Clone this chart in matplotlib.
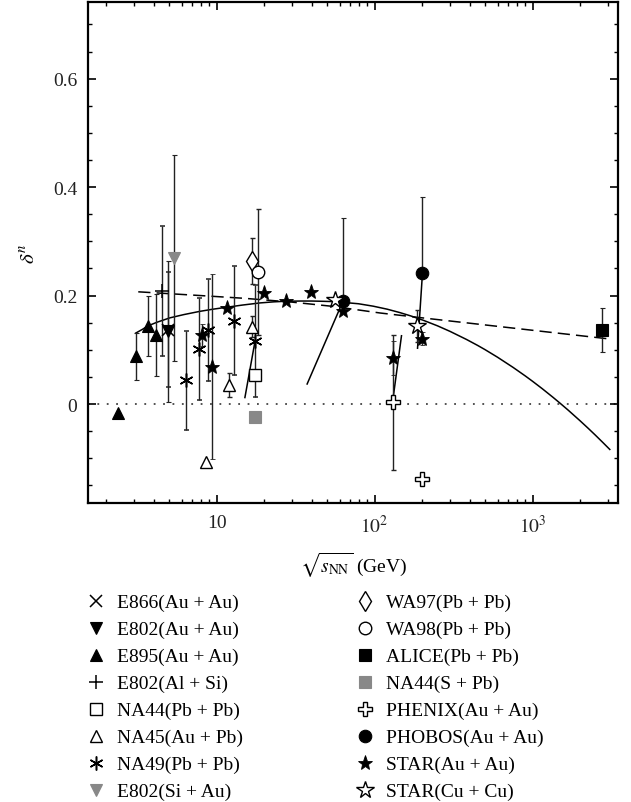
import numpy as np
import matplotlib
matplotlib.use('Agg')
import matplotlib.pyplot as plt
from matplotlib.lines import Line2D
from matplotlib.ticker import LogLocator, MultipleLocator, FuncFormatter, NullFormatter, FixedLocator

plt.rcParams['font.family'] = ['Liberation Serif', 'DejaVu Serif']
plt.rcParams['mathtext.fontset'] = 'stix'

# ---------------- data ----------------
e866_x = [4.94]; e866_y = [0.137]; e866_err = [0.106]
e802au_x = [4.94]; e802au_y = [0.134]; e802au_err = [0.13]
e895_x = [2.38, 3.08, 3.66, 4.13]; e895_y = [-0.016, 0.088, 0.144, 0.127]; e895_err = [0.0, 0.043, 0.056, 0.076]
e802alsi_x = [4.49]; e802alsi_y = [0.208]; e802alsi_err = [0.12]
na44pb_x = [17.4]; na44pb_y = [0.054]
na45_x = [8.52, 12.0, 16.7]; na45_y = [-0.107, 0.035, 0.143]; na45_err = [0.0, 0.022, 0.02]
na49_x = [6.39, 7.69, 8.85, 12.9, 17.5]; na49_y = [0.044, 0.101, 0.136, 0.154, 0.116]; na49_err = [0.091, 0.094, 0.094, 0.10, 0.103]
e802siau_x = [5.37]; e802siau_y = [0.270]; e802siau_err = [0.19]
wa97_x = [16.65]; wa97_y = [0.264]; wa97_err = [0.042]
wa98_x = [18.2]; wa98_y = [0.244]; wa98_err = [0.116]
alice_x = [2757]; alice_y = [0.137]; alice_err = [0.041]
na44s_x = [17.4]; na44s_y = [-0.023]
phenix_x = [130, 200]; phenix_y = [0.003, -0.138]; phenix_err = [0.124, 0.0]
phobos_x = [62.7, 201]; phobos_y = [0.190, 0.242]; phobos_err_lo = [0.01, 0.0]; phobos_err_hi = [0.153, 0.14]
starau_x = [8.04, 9.3, 11.57, 19.9, 27.5, 39.5, 62.7, 131, 200]
starau_y = [0.127, 0.069, 0.177, 0.204, 0.190, 0.207, 0.172, 0.085, 0.120]
starau_err = [0.02, 0.17, 0.0, 0.0, 0.0, 0.0, 0.0, 0.031, 0.012]
starcu_x = [56.1, 184.5]; starcu_y = [0.191, 0.144]; starcu_err = [0.0, 0.03]

# solid curve and dashed curve
fit_x = [3.08, 3.4, 3.66, 4.2, 5.06, 6.2, 7.84, 9.5, 11.57, 14.5, 18.8, 23, 27.5, 34, 40, 47, 54.7, 63, 79,
         98, 120, 144.5, 170, 203, 250, 300, 382, 450, 500, 600, 753, 900, 1000, 1150, 1349, 1500, 1679,
         2000, 2250, 2500, 2800, 3083]
fit_y = [0.131, 0.138, 0.144, 0.151, 0.159, 0.165, 0.171, 0.175, 0.1785, 0.1825, 0.1865, 0.1885, 0.1896,
         0.190, 0.190, 0.1895, 0.189, 0.1875, 0.185, 0.1805, 0.175, 0.1687, 0.1624, 0.1546, 0.1443, 0.1341,
         0.1191, 0.108, 0.1004, 0.0864, 0.0676, 0.0518, 0.042, 0.0285, 0.0123, 0.0011, -0.0111, -0.0309,
         -0.0447, -0.0574, -0.0715, -0.0837]
dash_x = [3.19, 8.0, 15.0, 30.0, 55.0, 108.0, 200.0, 3083.0]
dash_y = [0.207, 0.200, 0.195, 0.188, 0.180, 0.168, 0.159, 0.120]

# short slanted segments
seg_x = [[15.1, 17.5], [37.4, 62.7], [130, 148], [187, 201]]
seg_y = [[0.012, 0.116], [0.037, 0.188], [0.004, 0.126], [0.103, 0.242]]

labels = ['E866(Au + Au)', 'E802(Au + Au)', 'E895(Au + Au)', 'E802(Al + Si)',
          'NA44(Pb + Pb)', 'NA45(Au + Pb)', 'NA49(Pb + Pb)', 'E802(Si + Au)',
          'WA97(Pb + Pb)', 'WA98(Pb + Pb)', 'ALICE(Pb + Pb)', 'NA44(S + Pb)',
          'PHENIX(Au + Au)', 'PHOBOS(Au + Au)', 'STAR(Au + Au)', 'STAR(Cu + Cu)']

# ---------------- figure ----------------
W, H = 631, 803
fig = plt.figure(figsize=(W / 100, H / 100), dpi=100)
ax = fig.add_axes([88.3 / W, 1 - 504.3 / H, (618.3 - 88.3) / W, (504.3 - 2.7) / H])
ax.set_xscale('log')
ax.set_xlim(1.54, 3490)
ax.set_ylim(-0.183, 0.742)

ecol = '#222222'
grey = '#888888'
ekw = dict(ecolor=ecol, elinewidth=1.0, capsize=1.8, capthick=1.0, linestyle='none', zorder=3)

# lines
ax.axhline(0, color='#444444', lw=1.3, dashes=(1, 4.2), zorder=1)
ax.plot(fit_x, fit_y, color='black', lw=1.1, zorder=2)
ax.plot(dash_x, dash_y, color='black', lw=1.1, dashes=(8, 4), zorder=2)
for sx, sy in zip(seg_x, seg_y):
    ax.plot(sx, sy, color='black', lw=1.1, zorder=2)

def eb(x, y, err, **mk):
    ax.errorbar(x, y, yerr=err, **ekw, **mk)

styles = {}
styles[0] = dict(marker='x', ms=8, mfc='black', mec='black', mew=1.1)
styles[1] = dict(marker='v', ms=8, mfc='black', mec='black', mew=0.8)
styles[2] = dict(marker='^', ms=8, mfc='black', mec='black', mew=0.8)
styles[3] = dict(marker='+', ms=10, mfc='black', mec='black', mew=1.1)
styles[4] = dict(marker='s', ms=8, mfc='white', mec='black', mew=1.0)
styles[5] = dict(marker='^', ms=9, mfc='white', mec='black', mew=1.0)
styles[6] = dict(marker=(6, 2, 0), ms=10, mfc='black', mec='black', mew=1.1)
styles[7] = dict(marker='v', ms=8, mfc=grey, mec=grey, mew=0.8)
styles[8] = dict(marker='d', ms=10, mfc='white', mec='black', mew=1.0)
styles[9] = dict(marker='o', ms=9, mfc='white', mec='black', mew=1.0)
styles[10] = dict(marker='s', ms=8, mfc='black', mec='black', mew=0.8)
styles[11] = dict(marker='s', ms=8, mfc=grey, mec=grey, mew=0.8)
styles[12] = dict(marker='P', ms=10, mfc='white', mec='black', mew=1.0)
styles[13] = dict(marker='o', ms=9, mfc='black', mec='black', mew=0.8)
styles[14] = dict(marker='*', ms=11, mfc='black', mec='black', mew=0.6)
styles[15] = dict(marker='*', ms=13, mfc='white', mec='black', mew=1.0)

eb(e866_x, e866_y, e866_err, **styles[0])
eb(e802au_x, e802au_y, e802au_err, **styles[1])
eb(e895_x, e895_y, e895_err, **styles[2])
eb(e802alsi_x, e802alsi_y, e802alsi_err, **styles[3])
ax.plot(na44pb_x, na44pb_y, ls='none', zorder=4, **styles[4])
eb(na45_x, na45_y, na45_err, **styles[5])
eb(na49_x, na49_y, na49_err, **styles[6])
eb(e802siau_x, e802siau_y, e802siau_err, **styles[7])
eb(wa97_x, wa97_y, wa97_err, **styles[8])
eb(wa98_x, wa98_y, wa98_err, **styles[9])
eb(alice_x, alice_y, alice_err, **styles[10])
ax.plot(na44s_x, na44s_y, ls='none', zorder=4, **styles[11])
eb(phenix_x, phenix_y, phenix_err, **styles[12])
eb(phobos_x, phobos_y, [phobos_err_lo, phobos_err_hi], **styles[13])
eb(starau_x, starau_y, starau_err, **styles[14])
eb(starcu_x, starcu_y, starcu_err, **styles[15])

# axes styling
for sp in ax.spines.values():
    sp.set_linewidth(1.6)
ax.xaxis.set_major_locator(FixedLocator([10, 100, 1000]))
ax.xaxis.set_minor_locator(LogLocator(base=10, subs=np.arange(2, 10), numticks=20))
ax.xaxis.set_minor_formatter(NullFormatter())
ax.xaxis.set_major_formatter(FuncFormatter(lambda v, p: '10' if abs(v - 10) < 1e-6 else r'$10^{%d}$' % int(round(np.log10(v)))))
ax.yaxis.set_major_locator(FixedLocator([0, 0.2, 0.4, 0.6]))
ax.yaxis.set_minor_locator(MultipleLocator(0.05))
ax.yaxis.set_major_formatter(FuncFormatter(lambda v, p: '0' if abs(v) < 1e-9 else '%.1f' % v))
ax.tick_params(which='both', direction='in', top=True, right=True, labelsize=14, colors='black', pad=8)
ax.tick_params(which='major', length=6, width=1.2)
ax.tick_params(which='minor', length=3, width=1.0)
for lab in ax.get_xticklabels() + ax.get_yticklabels():
    lab.set_color('#222222')

ax.set_xlabel(r'$\sqrt{s_{\mathrm{NN}}}$ (GeV)', fontsize=14, labelpad=10)
ax.set_ylabel(r'$\delta^{n}$', fontsize=15, labelpad=10)

# legend
handles = [Line2D([], [], ls='none', **styles[i]) for i in range(16)]
lkw = dict(frameon=False, fontsize=14, handlelength=1.0, handletextpad=0.6,
           labelspacing=0.48, borderpad=0, borderaxespad=0, loc='upper left')
fig.legend(handles[:8], labels[:8], bbox_to_anchor=(86 / W, 1 - 594.7 / H), **lkw)
fig.legend(handles[8:], labels[8:], bbox_to_anchor=(355 / W, 1 - 594.7 / H), **lkw)

fig.savefig('out.png', dpi=100)
